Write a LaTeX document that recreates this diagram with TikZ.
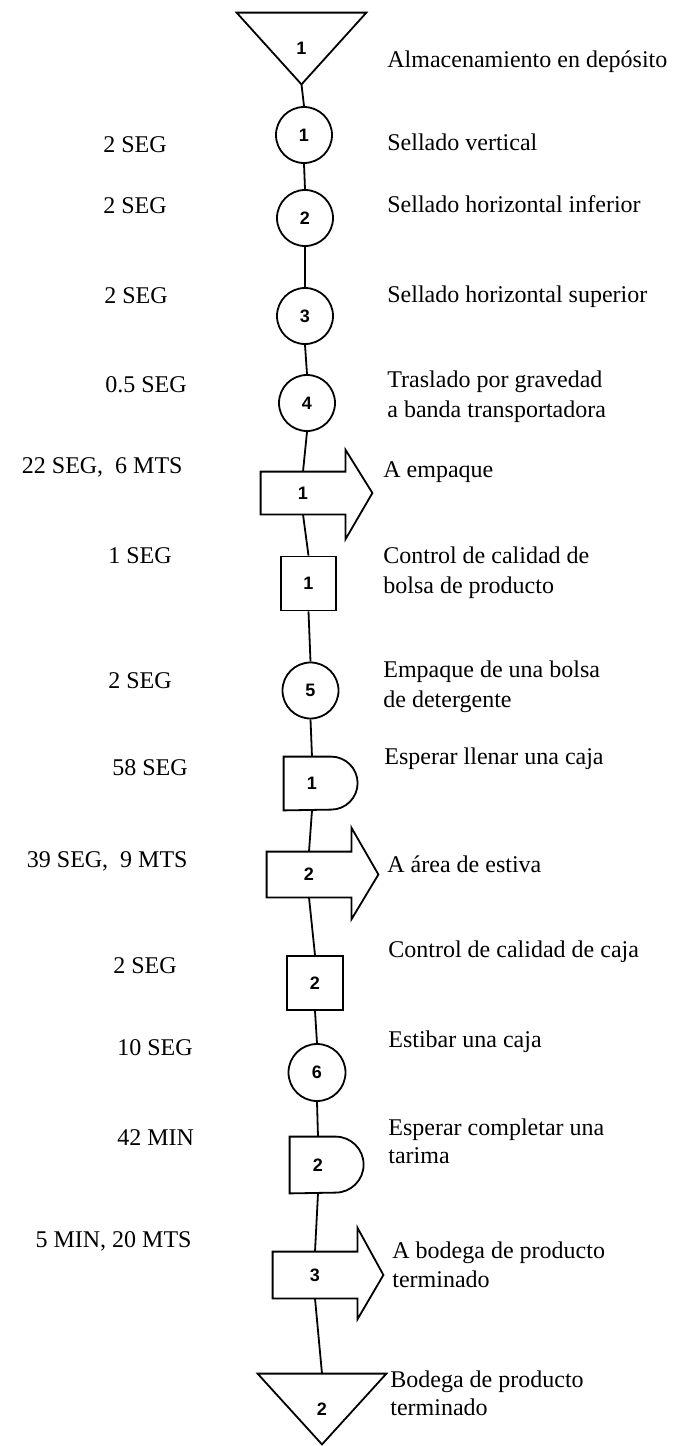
\documentclass[tikz,border=0pt]{standalone}
\usepackage{fontspec}
\setmainfont{Liberation Serif}
\newfontfamily\numfont{Liberation Sans}
\begin{document}
\begin{tikzpicture}[x=0.5pt,y=-0.5pt,
  shapeline/.style={draw=black,line width=0.9pt,line join=miter},
  numtext/.style={font=\numfont\bfseries\fontsize{9}{9}\selectfont},
  bbox/.style={draw=none,inner sep=0pt,numtext},
  opcircle/.style={circle,shapeline,inner sep=0pt,minimum size=28pt,numtext},
  inspbox/.style={rectangle,shapeline,inner sep=0pt,minimum width=27.5pt,minimum height=27pt,numtext},
  flow/.style={line width=0.9pt},
  desc/.style={anchor=base west,inner sep=0pt,font=\fontsize{12}{14}\selectfont},
  timel/.style={anchor=base west,inner sep=0pt,font=\fontsize{12}{14}\selectfont},
  timer/.style={anchor=base east,inner sep=0pt,font=\fontsize{12}{14}\selectfont}]
\useasboundingbox (0,0) rectangle (677,1446);

% ---- symbols ----
\node[bbox,minimum width=64.5pt,minimum height=35.5pt] (t1) at (301.5,48.5) {1};
\draw[shapeline] (t1.north west) -- (t1.north east) -- (t1.south) -- cycle;

\node[opcircle] (o1) at (304,135) {1};
\node[opcircle] (o2) at (305,218) {2};
\node[opcircle] (o3) at (305,316) {3};
\node[opcircle] (o4) at (307,403) {4};

\node[bbox,minimum width=42pt,minimum height=21pt] (a1) at (303,493) {1};
\draw[shapeline] (a1.north east) -- (a1.north west) -- (a1.south west) -- (a1.south east)
  -- ++(0,25) -- ([xshift=13.5pt]a1.east) -- ([yshift=11pt]a1.north east) -- cycle;

\node[inspbox] (i1) at (308.5,583.5) {1};
\node[opcircle] (o5) at (310.5,690.5) {5};

\node[bbox,minimum width=28pt,minimum height=26.5pt] (d1) at (312,783.5) {1};
\draw[shapeline] (d1.north west) -- ++(47.5,0) arc[start angle=90,end angle=-90,radius=13.25pt]
  -- (d1.south west) -- cycle;

\node[bbox,minimum width=42pt,minimum height=22.5pt] (a2) at (309,874.5) {2};
\draw[shapeline] (a2.north east) -- (a2.north west) -- (a2.south west) -- (a2.south east)
  -- ++(0,22) -- ([xshift=13.5pt]a2.east) -- ([yshift=12pt]a2.north east) -- cycle;

\node[inspbox,minimum width=28pt] (i2) at (315,983) {2};
\node[opcircle,minimum size=28.5pt] (o6) at (317,1072.5) {6};

\node[bbox,minimum width=28pt,minimum height=28pt] (d2) at (318,1165) {2};
\draw[shapeline] (d2.north west) -- ++(46,0) arc[start angle=90,end angle=-90,radius=14pt]
  -- (d2.south west) -- cycle;

\node[bbox,minimum width=42pt,minimum height=23pt] (a3) at (315,1275) {3};
\draw[shapeline] (a3.north east) -- (a3.north west) -- (a3.south west) -- (a3.south east)
  -- ++(0,21) -- ([xshift=13pt]a3.east) -- ([yshift=12pt]a3.north east) -- cycle;

\node[bbox,minimum width=64pt,minimum height=35pt] (t2) at (322,1409) {2};
\draw[shapeline] (t2.north west) -- (t2.north east) -- (t2.south) -- cycle;

% ---- connectors ----
\draw[flow] (t1.south) -- (o1.north);
\draw[flow] (o1.south) -- (o2.north);
\draw[flow] (o2.south) -- (o3.north);
\draw[flow] (o3.south) -- (o4.north);
\draw[flow] (o4.south) -- (a1.north);
\draw[flow] (a1.south) -- (i1.north);
\draw[flow] (i1.south) -- (o5.north);
\draw[flow] (o5.south) -- (d1.north);
\draw[flow] (d1.south) -- (a2.north);
\draw[flow] (a2.south) -- (i2.north);
\draw[flow] (i2.south) -- (o6.north);
\draw[flow] (o6.south) -- (d2.north);
\draw[flow] (d2.south) -- (a3.north);
\draw[flow] (a3.south) -- (t2.north);

% ---- times (left) ----
\node[timel] (l1) at (103,152) {2 SEG};
\node[timel] (l2) at (103,213) {2 SEG};
\node[timel] (l3) at (104,303) {2 SEG};
\node[timel] (l4) at (105,392) {0.5 SEG};
\node[timer] (l5) at (183,473) {22 SEG,~ 6 MTS};
\node[timel] (l6) at (108,563) {1 SEG};
\node[timel] (l7) at (108,688) {2 SEG};
\node[timel] (l8) at (112,775) {58 SEG};
\node[timer] (l9) at (188,867) {39 SEG,~ 9 MTS};
\node[timel] (l10) at (113,973) {2 SEG};
\node[timel] (l11) at (117,1055) {10 SEG};
\node[timel] (l12) at (117,1145) {42 MIN};
\node[timer] (l13) at (192,1247) {5 MIN, 20 MTS};

% ---- descriptions (right) ----
\node[desc] (r0) at (387,67) {Almacenamiento en depósito};
\node[desc] (r1) at (387,150) {Sellado vertical};
\node[desc] (r2) at (387,212) {Sellado horizontal inferior};
\node[desc] (r3) at (387,302) {Sellado horizontal superior};
\node[desc] (r4a) at (387,387) {Traslado por gravedad};
\node[desc] (r4b) at (387,417) {a banda transportadora};
\node[desc] (r5) at (383,477) {A empaque};
\node[desc] (r6a) at (383,563) {Control de calidad de};
\node[desc] (r6b) at (383,593) {bolsa de producto};
\node[desc] (r7a) at (383,677) {Empaque de una bolsa};
\node[desc] (r7b) at (383,707) {de detergente};
\node[desc] (r8) at (384,764) {Esperar llenar una caja};
\node[desc] (r9) at (387,872) {A área de estiva};
\node[desc] (r10) at (388,957) {Control de calidad de caja};
\node[desc] (r11) at (388,1047) {Estibar una caja};
\node[desc] (r12a) at (388,1135) {Esperar completar una};
\node[desc] (r12b) at (388,1163) {tarima};
\node[desc] (r13a) at (392,1258) {A bodega de producto};
\node[desc] (r13b) at (392,1287) {terminado};
\node[desc] (r14a) at (390,1387) {Bodega de producto};
\node[desc] (r14b) at (390,1415) {terminado};
\end{tikzpicture}
\end{document}
